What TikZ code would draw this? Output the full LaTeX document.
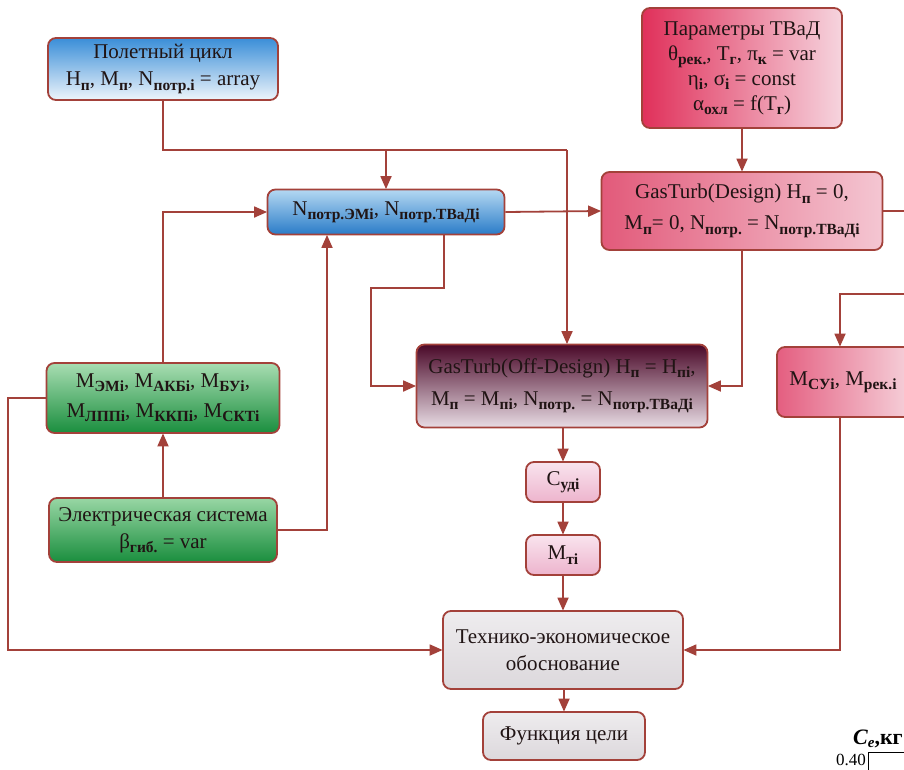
\documentclass[tikz,border=0pt]{standalone}
\usepackage{fontspec}
\setmainfont{Liberation Serif}
\usetikzlibrary{arrows.meta}
\definecolor{lc}{HTML}{A3413A}
\definecolor{tx}{HTML}{201414}
\definecolor{flyT}{HTML}{3A8ED8}
\definecolor{flyB}{HTML}{EEF5FB}
\definecolor{parL}{HTML}{E0305A}
\definecolor{parR}{HTML}{F6D4DE}
\definecolor{nbT}{HTML}{B4D8F2}
\definecolor{nbB}{HTML}{2A7CC8}
\definecolor{gdL}{HTML}{E25A7A}
\definecolor{gdR}{HTML}{F4C6D2}
\definecolor{gmT}{HTML}{A8DDB2}
\definecolor{gmB}{HTML}{1A8E3E}
\definecolor{odT}{HTML}{4A0828}
\definecolor{odB}{HTML}{E8DCE4}
\definecolor{msL}{HTML}{E45E80}
\definecolor{msR}{HTML}{F6D6DE}
\definecolor{elT}{HTML}{98D6A4}
\definecolor{pkT}{HTML}{F9E4EE}
\definecolor{pkB}{HTML}{EDB4CD}
\definecolor{gyT}{HTML}{EEECEE}
\definecolor{gyB}{HTML}{DCD8DC}
\newcommand\mysub[1]{\raisebox{-0.45ex}{\fontsize{15.5}{15.5}\selectfont\bfseries #1}}
\begin{document}
\begin{tikzpicture}[x=1pt,y=-1pt,
  box/.style={draw=lc, line width=1.8pt, rounded corners=8pt, align=center, inner sep=2pt,
    font=\fontsize{21}{29}\selectfont, text=tx},
  wire/.style={draw=lc, line width=1.8pt},
  arr/.style={draw=lc, line width=1.8pt, -{Triangle[length=13pt,width=11pt]}, shorten >=-0.5pt},
]
\useasboundingbox (0,0) rectangle (904,769);
\clip (0,0) rectangle (904,769);

% boxes
\node[box, minimum width=230pt, minimum height=62pt, top color=flyT, bottom color=flyB] (fly) at (163,69)
  {Полетный цикл\\[-2pt] H\mysub{п}, M\mysub{п}, N\mysub{потр.i} = array};
\node[box, minimum width=200pt, minimum height=120pt, left color=parL, right color=parR] (par) at (742,68)
  {Параметры ТВаД\\[-4pt] θ\mysub{рек.}, T\mysub{г}, π\mysub{к} = var\\[-4pt] η\mysub{i}, σ\mysub{i} = const\\[-4pt] α\mysub{охл} = f(T\mysub{г})};
\node[box, minimum width=237pt, minimum height=45pt, top color=nbT, bottom color=nbB] (nb) at (386,212)
  {N\mysub{потр.ЭМi}, N\mysub{потр.ТВаДi}};
\node[box, minimum width=281pt, minimum height=78pt, left color=gdL, right color=gdR] (gd) at (742,211)
  {GasTurb(Design) H\mysub{п} = 0,\\[2pt] M\mysub{п}= 0, N\mysub{потр.} = N\mysub{потр.ТВаДi}};
\node[box, minimum width=233pt, minimum height=70pt, top color=gmT, bottom color=gmB] (gm) at (163,398)
  {M\mysub{ЭМi}, M\mysub{АКБi}, M\mysub{БУi},\\[1pt] M\mysub{ЛППi}, M\mysub{ККПi}, M\mysub{СКТi}};
\node[box, minimum width=291pt, minimum height=83pt, top color=odT, bottom color=odB] (od) at (562,386)
  {GasTurb(Off-Design) H\mysub{п} = H\mysub{пi},\\[3pt] M\mysub{п} = M\mysub{пi}, N\mysub{потр.} = N\mysub{потр.ТВаДi}};
\node[box, minimum width=140pt, minimum height=70pt, left color=msL, right color=msR] (msu) at (847,382)
  {M\mysub{СУi}, M\mysub{рек.i}\hspace{8pt}};
\node[box, minimum width=228pt, minimum height=64pt, top color=elT, bottom color=gmB] (el) at (163,530)
  {Электрическая система\\[-2pt] β\mysub{гиб.} = var};
\node[box, minimum width=74pt, minimum height=40pt, top color=pkT, bottom color=pkB] (cy) at (563,482)
  {C\mysub{удi}};
\node[box, minimum width=74pt, minimum height=40pt, top color=pkT, bottom color=pkB] (mt) at (563,555)
  {M\mysub{тi}};
\node[box, minimum width=240pt, minimum height=78pt, top color=gyT, bottom color=gyB] (te) at (563,650)
  {Технико-экономическое\\[-2pt] обоснование};
\node[box, minimum width=162pt, minimum height=48pt, top color=gyT, bottom color=gyB] (fc) at (564,736)
  {Функция цели};

% coordinates for bends
\coordinate (b1) at (163,150);
\coordinate (b2) at (567,150);
\coordinate (c3) at (327,530);
\coordinate (d1) at (444,288);
\coordinate (d2) at (371,288);
\coordinate (e1) at (915,211);
\coordinate (e2) at (915,294);
\coordinate (f1) at (840,294);
\coordinate (g1) at (8,398);

% connectors
\draw[wire] (fly.south) -- (b1) -- (b2);
\draw[arr] (b2) -- (od.north -| b2);
\draw[arr] (nb.north |- b1) -- (nb.north);
\draw[arr] (gm.north) |- (nb.west);
\draw[arr] (el.north) -- (gm.south);
\draw[arr] (el.east) -| (nb.south -| c3);
\draw[arr] (nb.south -| d1) -- (d1) -- (d2) |- (od.west);
\draw[arr] (nb.east) -- (gd.west);
\draw[arr] (par.south) -- (gd.north);
\draw[arr] (gd.south) |- (od.east);
\draw[wire] (gd.east) -- (e1);
\draw[arr] (e2) -- (f1) -- (msu.north -| f1);
\draw[arr] (msu.south -| f1) |- (te.east);
\draw[arr] (gm.west) -- (g1) |- (te.west);
\draw[arr] (od.south -| cy) -- (cy.north);
\draw[arr] (cy) -- (mt);
\draw[arr] (mt) -- (mt |- te.north);
\draw[arr] (te.south -| fc) -- (fc.north);

% fragment of the next figure
\node[anchor=base west, font=\fontsize{22}{22}\selectfont\bfseries, inner sep=0pt] (ce) at (853,744)
  {\itshape C\raisebox{-0.35ex}{\fontsize{15}{15}\selectfont e}\upshape,кг};
\node[anchor=base east, font=\fontsize{17}{17}\selectfont, inner sep=0pt] (v40) at (866,765) {0.40};
\draw[line width=0.8pt] (868,752) rectangle (960,800);
\end{tikzpicture}
\end{document}
